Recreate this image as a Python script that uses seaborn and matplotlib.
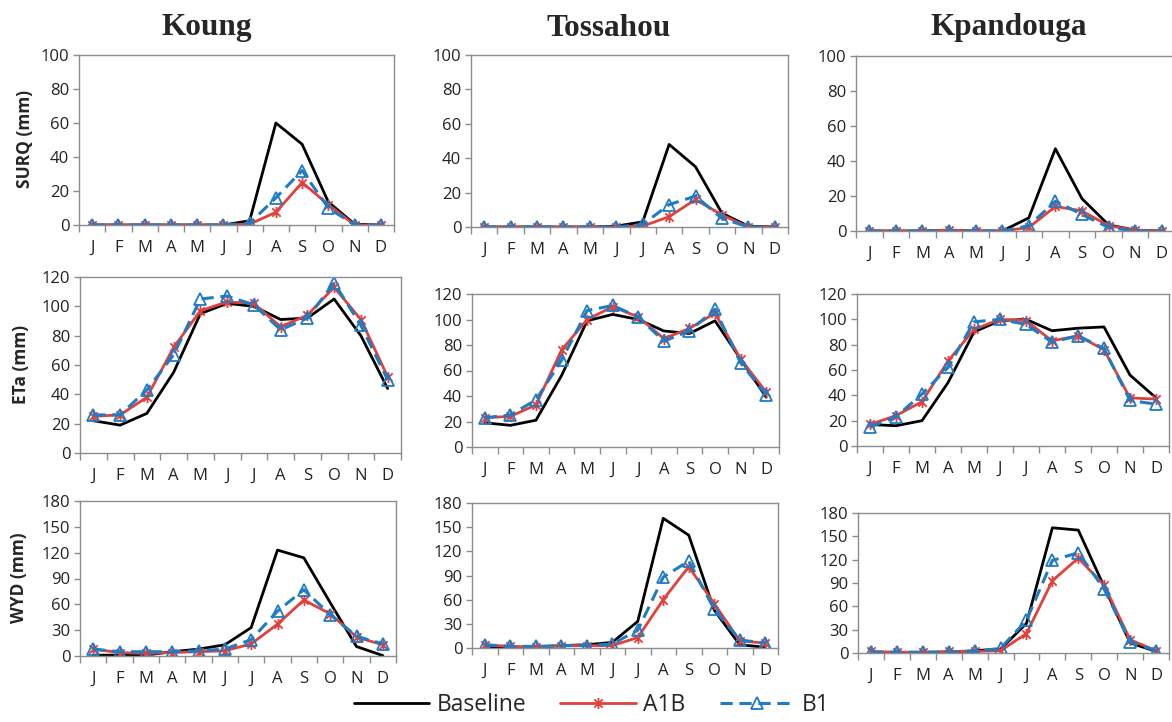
import matplotlib
matplotlib.use("Agg")
import numpy as np
import pandas as pd
import matplotlib.pyplot as plt
import seaborn as sns
from matplotlib.path import Path

# ---- data ----
months = ["J", "F", "M", "A", "M", "J", "J", "A", "S", "O", "N", "D"]
sites = ["Koung", "Tossahou", "Kpandouga"]
variables = ["SURQ (mm)", "ETa (mm)", "WYD (mm)"]
scenarios = ["Baseline", "A1B", "B1"]

# surface runoff
koung_surq_base = [0, 0, 0, 0, 0, 0, 2.5, 60, 47.5, 13.5, 0.5, 0]
koung_surq_a1b = [0, 0, 0, 0, 0, 0, 0.5, 7.5, 25, 12, 0, 0]
koung_surq_b1 = [0, 0, 0, 0, 0, 0, 1, 16, 32, 10, 0, 0]
tossa_surq_base = [0, 0, 0, 0, 0, 0.5, 3, 48, 35, 8, 0.5, 0]
tossa_surq_a1b = [0, 0, 0, 0, 0, 0, 0.5, 6, 16, 7, 0, 0]
tossa_surq_b1 = [0, 0, 0, 0, 0, 0, 1.5, 13, 18, 5, 0, 0]
kpand_surq_base = [0, 0, 0, 0.5, 0, 0, 7.5, 47, 18.5, 3.5, 0.5, 0]
kpand_surq_a1b = [0, 0, 0, 0.5, 0, 0, 2, 14, 11.5, 3, 0.5, 0]
kpand_surq_b1 = [0, 0, 0, 0, 0, 0, 3, 17, 9.5, 2, 0, 0]

# actual evapotranspiration
koung_eta_base = [22, 19, 27, 55, 95, 102, 100, 91, 92, 105, 80, 44]
koung_eta_a1b = [25, 26, 38, 72, 97, 103, 102, 86, 94, 113, 91, 52]
koung_eta_b1 = [26, 26, 43, 67, 105, 107, 101, 84, 92, 116, 87, 50]
tossa_eta_base = [19, 17, 21, 56, 99, 104, 100, 91, 89, 99, 69, 39]
tossa_eta_a1b = [23, 24, 33, 76, 100, 110, 102, 85, 93, 105, 69, 43]
tossa_eta_b1 = [23, 25, 37, 68, 107, 111, 102, 83, 91, 108, 66, 41]
kpand_eta_base = [17, 16, 20, 50, 90, 99, 100, 91, 93, 94, 56, 38]
kpand_eta_a1b = [17, 24, 35, 67, 92, 100, 99, 83, 87, 76, 38, 37]
kpand_eta_b1 = [15, 23, 41, 62, 98, 100, 96, 82, 87, 77, 36, 33]

# water yield
koung_wyd_base = [1, 1, 1, 5, 8, 13, 33, 123, 114, 62, 11, 0.5]
koung_wyd_a1b = [8, 4, 3, 4, 5, 6, 14, 37, 65, 49, 22, 13]
koung_wyd_b1 = [8, 5, 5, 5, 6, 8, 19, 52, 77, 48, 23, 14]
tossa_wyd_base = [2, 1, 1, 3, 4, 7, 33, 161, 140, 47, 4, 1]
tossa_wyd_a1b = [4, 2, 1, 3, 3, 3, 13, 60, 101, 55, 9, 6]
tossa_wyd_b1 = [4, 2, 2, 3, 3, 5, 22, 88, 108, 48, 10, 6]
kpand_wyd_base = [1, 0.5, 0.5, 1, 3, 5, 38, 161, 158, 85, 13, 2]
kpand_wyd_a1b = [2, 1, 1, 2, 2, 3, 25, 93, 122, 87, 17, 3]
kpand_wyd_b1 = [1, 1, 1, 1, 2, 6, 42, 119, 129, 82, 14, 3]

panel_data = [
    [(koung_surq_base, koung_surq_a1b, koung_surq_b1),
     (tossa_surq_base, tossa_surq_a1b, tossa_surq_b1),
     (kpand_surq_base, kpand_surq_a1b, kpand_surq_b1)],
    [(koung_eta_base, koung_eta_a1b, koung_eta_b1),
     (tossa_eta_base, tossa_eta_a1b, tossa_eta_b1),
     (kpand_eta_base, kpand_eta_a1b, kpand_eta_b1)],
    [(koung_wyd_base, koung_wyd_a1b, koung_wyd_b1),
     (tossa_wyd_base, tossa_wyd_a1b, tossa_wyd_b1),
     (kpand_wyd_base, kpand_wyd_a1b, kpand_wyd_b1)],
]
y_limits = [(0, 100, 20), (0, 120, 20), (0, 180, 30)]

# ---- layout (pixel boxes: left, top, right, bottom) ----
W, H = 1172, 722
boxes = [
    [(79, 55, 394, 225), (471, 55, 788, 227), (856, 56, 1175, 231)],
    [(80, 277, 401, 453), (472, 294, 779, 447), (857, 294, 1169, 446)],
    [(80, 501, 396, 656), (472, 503, 778, 648), (858, 513, 1169, 653)],
]
title_x = [207, 609, 1009]
ylabel_pos = [(34, 139), (30, 364), (28, 578)]

sns.set_theme(style="white")
plt.rcParams["font.family"] = ["Open Sans", "DejaVu Sans"]

# Excel-like asterisk marker
star = Path([(0, -1), (0, 1), (-0.75, -0.75), (0.75, 0.75), (-0.75, 0.75), (0.75, -0.75)],
            [Path.MOVETO, Path.LINETO] * 3)

styles = {
    "Baseline": dict(color="black", linewidth=2.0),
    "A1B": dict(color="#E2403A", linewidth=2.0, marker=star, markersize=8,
                markeredgecolor="#E2403A", markeredgewidth=1.3),
    "B1": dict(color="#1F7BC4", linewidth=2.2, linestyle=(0, (4, 2.2)), marker="^",
               markersize=8, markerfacecolor="none", markeredgecolor="#1F7BC4",
               markeredgewidth=1.3),
}

fig = plt.figure(figsize=(W / 100, H / 100), dpi=100)
spine_col = "#8c8c8c"

for r in range(3):
    for c in range(3):
        l, t, rt, b = boxes[r][c]
        ax = fig.add_axes([l / W, 1 - b / H, (rt - l) / W, (b - t) / H])
        rows = []
        for s, vals in zip(scenarios, panel_data[r][c]):
            for i, v in enumerate(vals):
                rows.append({"month": i, "value": v, "scenario": s})
        df = pd.DataFrame(rows)
        for s in scenarios:
            sns.lineplot(data=df[df["scenario"] == s], x="month", y="value",
                         ax=ax, label=s, legend=False, **styles[s])
        lo, hi, step = y_limits[r]
        ax.set_ylim(lo, hi)
        ax.set_yticks(np.arange(lo, hi + 1, step))
        ax.set_xlim(-0.5, 11.5)
        ax.set_xticks(range(12))
        ax.set_xticklabels(months)
        ax.set_xticks(np.arange(-0.5, 12, 1), minor=True)
        ax.tick_params(axis="x", which="major", length=0, pad=11, labelsize=12,
                       labelcolor="#222222")
        ax.tick_params(axis="x", which="minor", length=5, width=1, color=spine_col,
                       direction="out", bottom=True)
        ax.tick_params(axis="y", which="major", length=4, width=1, color=spine_col,
                       direction="out", left=True, pad=3, labelsize=12,
                       labelcolor="#222222")
        ax.set_xlabel("")
        if c == 0:
            ax.set_ylabel(variables[r], fontsize=12.5, fontweight="bold")
            lx, ly = ylabel_pos[r]
            ax.yaxis.set_label_coords(lx / W, 1 - ly / H, transform=fig.transFigure)
        else:
            ax.set_ylabel("")
        for sp in ax.spines.values():
            sp.set_color(spine_col)
            sp.set_linewidth(1)
        if r == 0 and c == 0:
            handles, labels = ax.get_legend_handles_labels()

for c, name in enumerate(sites):
    fig.text(title_x[c] / W, 1 - 28 / H, name, ha="center", va="center",
             fontsize=22.5, fontweight="bold", family=["Liberation Serif", "DejaVu Serif"])

fig.legend(handles, labels, loc="lower center", ncol=3, frameon=False,
           bbox_to_anchor=(0.505, -0.022), fontsize=16.5, handlelength=3.3,
           handletextpad=0.3, columnspacing=1.5)

fig.savefig("out.png", dpi=100)
